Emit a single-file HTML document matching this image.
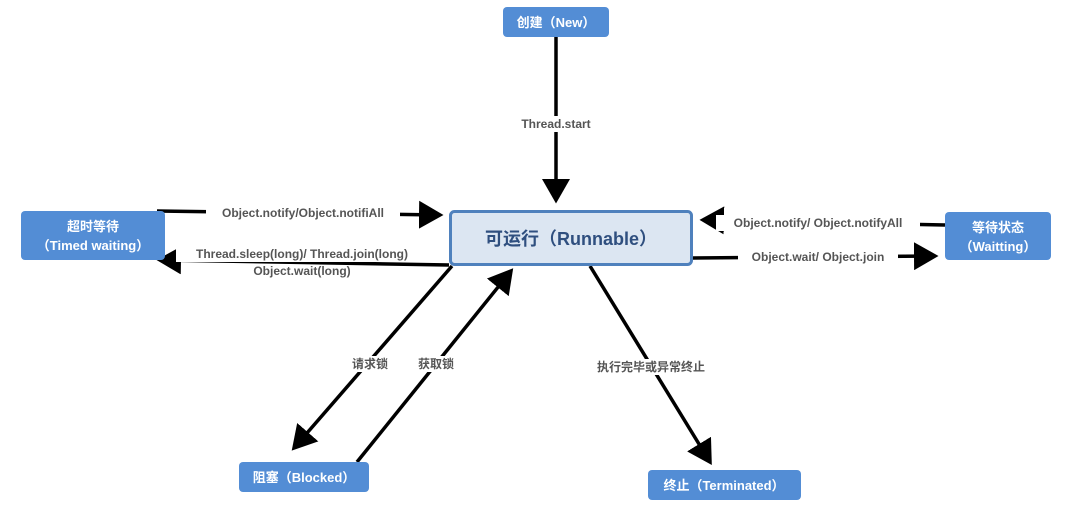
<!DOCTYPE html>
<html><head><meta charset="utf-8"><style>
html,body{margin:0;padding:0;background:#fff;}
svg{display:block;}
text{font-family:"Liberation Sans","Noto Sans CJK SC",sans-serif;font-weight:bold;}
.box{fill:#538dd5;}
.w{fill:#fff;font-size:13px;}
.l{fill:#555;font-size:12px;}
.ln{stroke:#000;stroke-width:3.5;fill:none;}
</style></head><body>
<svg width="1086" height="525" viewBox="0 0 1086 525">
<defs><marker id="a" markerWidth="8" markerHeight="8" refX="6" refY="4" orient="auto" markerUnits="strokeWidth"><path d="M0,0 L7,4 L0,8 z" fill="#000"/></marker></defs>
<!-- lines -->
<line class="ln" x1="556" y1="37" x2="556" y2="200" marker-end="url(#a)"/>
<line class="ln" x1="157" y1="211" x2="440" y2="215" marker-end="url(#a)"/>
<line class="ln" x1="449" y1="265" x2="160" y2="260" marker-end="url(#a)"/>
<line class="ln" x1="945" y1="225" x2="703" y2="220" marker-end="url(#a)"/>
<line class="ln" x1="693" y1="258" x2="935" y2="256" marker-end="url(#a)"/>
<line class="ln" x1="452" y1="266" x2="294" y2="448" marker-end="url(#a)"/>
<line class="ln" x1="357" y1="462" x2="511" y2="271" marker-end="url(#a)"/>
<line class="ln" x1="590" y1="266" x2="710" y2="462" marker-end="url(#a)"/>
<!-- labels -->
<rect x="514" y="116" width="84" height="16" fill="#fff"/>
<text class="l" x="556" y="128" text-anchor="middle">Thread.start</text>
<rect x="206" y="205" width="194" height="16" fill="#fff"/>
<text class="l" x="303" y="217" text-anchor="middle">Object.notify/Object.notifiAll</text>
<rect x="176" y="246" width="252" height="16" fill="#fff"/>
<text class="l" x="302" y="258" text-anchor="middle">Thread.sleep(long)/  Thread.join(long)</text>
<text class="l" x="302" y="275" text-anchor="middle">Object.wait(long)</text>
<rect x="716" y="215" width="204" height="16" fill="#fff"/>
<text class="l" x="818" y="227" text-anchor="middle">Object.notify/  Object.notifyAll</text>
<rect x="738" y="249" width="160" height="16" fill="#fff"/>
<text class="l" x="818" y="261" text-anchor="middle">Object.wait/ Object.join</text>
<rect x="348" y="356" width="44" height="16" fill="#fff"/>
<text class="l" x="370" y="368" text-anchor="middle" font-weight="normal">请求锁</text>
<rect x="414" y="356" width="44" height="16" fill="#fff"/>
<text class="l" x="436" y="368" text-anchor="middle" font-weight="normal">获取锁</text>
<rect x="592" y="359" width="118" height="16" fill="#fff"/>
<text class="l" x="651" y="371" text-anchor="middle" font-weight="normal">执行完毕或异常终止</text>
<!-- boxes -->
<rect class="box" x="503" y="7" width="106" height="30" rx="4"/>
<text class="w" x="556" y="27" text-anchor="middle">创建（New）</text>
<rect x="450.5" y="211.5" width="241" height="53" rx="4" fill="#dce6f2" stroke="#4f81bd" stroke-width="3"/>
<text x="571" y="245" text-anchor="middle" font-size="18" fill="#2f4f7f">可运行（Runnable）</text>
<rect class="box" x="21" y="211" width="144" height="49" rx="4"/>
<text class="w" x="93" y="231" text-anchor="middle">超时等待</text>
<text class="w" x="93" y="250" text-anchor="middle">（Timed waiting）</text>
<rect class="box" x="945" y="212" width="106" height="48" rx="4"/>
<text class="w" x="998" y="232" text-anchor="middle">等待状态</text>
<text class="w" x="998" y="251" text-anchor="middle">（Waitting）</text>
<rect class="box" x="239" y="462" width="130" height="30" rx="4"/>
<text class="w" x="304" y="482" text-anchor="middle">阻塞（Blocked）</text>
<rect class="box" x="648" y="470" width="153" height="30" rx="4"/>
<text class="w" x="724" y="490" text-anchor="middle">终止（Terminated）</text>
</svg>
</body></html>
